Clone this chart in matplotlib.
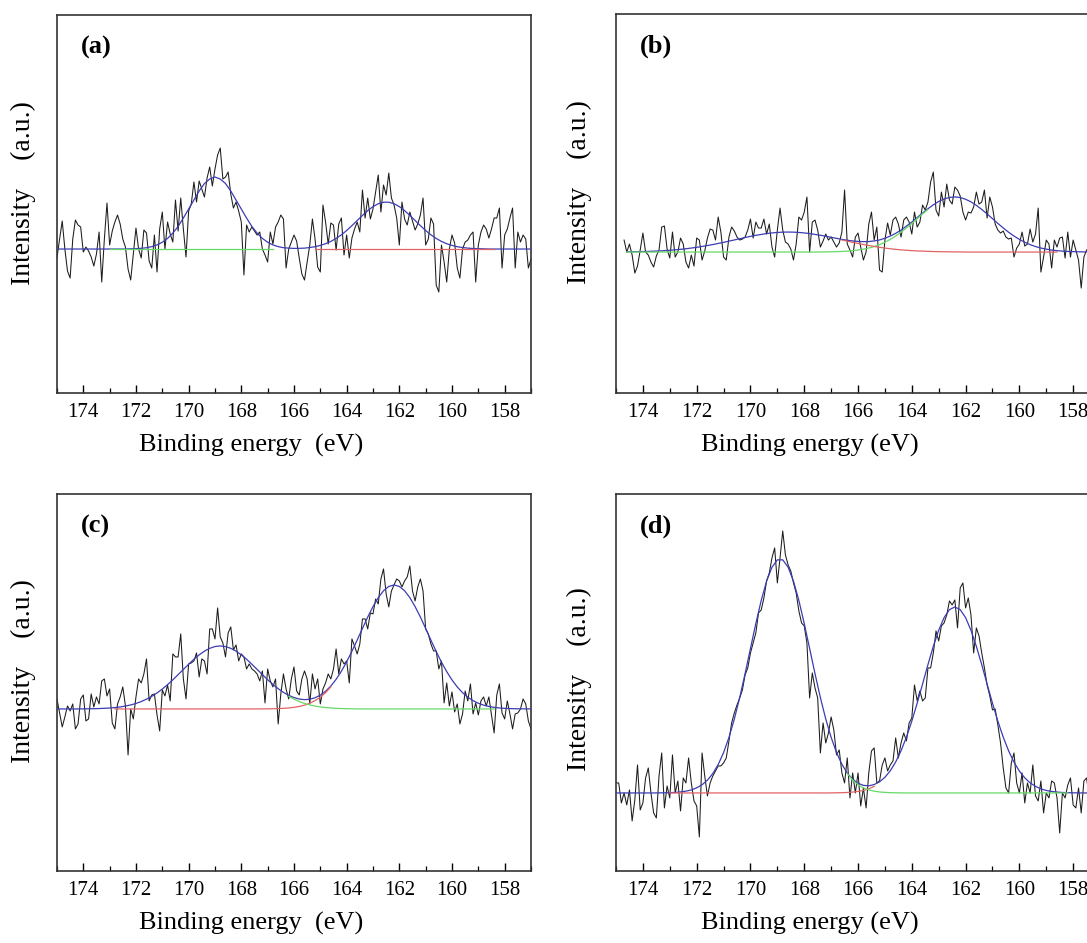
import numpy as np
import matplotlib
matplotlib.use("Agg")
import matplotlib.pyplot as plt
from matplotlib.ticker import MultipleLocator

plt.rcParams['font.family'] = ['Liberation Serif', 'DejaVu Serif']

# energy grids (eV): raw spectra every 0.1 eV, fitted curves every 0.2 eV
raw_energy = np.round(np.arange(175.0, 156.95, -0.1), 1)
fit_energy = np.round(np.arange(175.0, 156.9, -0.2), 1)

# raw S 2p spectra, intensity above baseline (a.u.)
raw_a = [-9, 10, 28, 0, -22, -29, 10, 29, 24, 22,
         -3, 2, -2, -8, -17, -5, 17, -33, 10, 46,
         4, 18, 27, 34, 25, 10, 2, -20, -31, -5,
         21, 0, -9, 19, 16, -12, -19, 14, -23, 20,
         37, 0, 27, 15, 7, 49, 18, 51, 20, -8,
         38, 45, 67, 47, 68, 60, 52, 71, 82, 63,
         80, 94, 101, 70, 72, 77, 55, 41, 47, 38,
         27, -26, 24, 17, 22, 18, 14, 17, 0, -6,
         -13, 17, 5, 22, 27, 34, 30, -19, 0, 7,
         14, 8, -9, -25, -31, -13, 4, 30, 10, -18,
         -23, 44, 27, 5, 26, 24, -1, 25, 31, -6,
         14, -9, 11, 20, 27, 17, 59, 31, 51, 30,
         40, 57, 74, 37, 64, 54, 76, 51, 44, 31,
         4, 47, 30, 24, 37, 28, 19, 25, 34, 51,
         4, 10, 31, 25, -36, -43, 4, -13, -33, 0,
         14, 6, -19, -29, 0, 7, 9, 14, 17, -33,
         4, 17, 24, 20, 11, 20, 31, 31, 41, -19,
         14, 20, 31, 41, -19, 17, 7, 14, 10, -19, -10]

raw_b = [None, None, None, 12, 0, 8, -3, -21, -14, 2,
         19, 0, -3, -10, -15, -4, 2, 25, 26, 3,
         -6, 20, -5, 0, 14, 8, -10, -16, -3, -14,
         14, 12, -8, 1, 14, 23, 22, 12, 35, 20,
         -5, -8, 15, 25, 21, 15, 12, 13, 15, 22,
         33, 14, 30, 24, 24, 33, 18, 28, 5, -5,
         22, 44, 22, 10, 8, 3, -8, 8, 35, 32,
         40, 55, 0, 30, 32, 22, 5, 11, 18, 12,
         15, 10, 5, 9, 20, 62, 8, 2, -5, 15,
         19, 5, -8, 0, 28, 40, 12, 25, -18, -20,
         12, 29, 17, 32, 35, 28, 15, 32, 35, 30,
         18, 40, 25, 30, 47, 42, 50, 70, 80, 42,
         36, 60, 45, 68, 52, 48, 65, 62, 56, 40,
         32, 40, 39, 45, 60, 48, 50, 62, 34, 55,
         45, 28, 22, 19, 21, 15, 13, 14, -5, 4,
         8, 20, 6, 8, 23, 10, 18, 44, -20, -5,
         12, 8, -16, 12, 5, 14, 15, -6, 20, -5,
         12, 2, -8, -36, -5, 2, 5, -3, 8, 0, -6]

raw_c = [10, -4, -18, -8, 3, -2, 5, -20, -15, 10,
         14, -12, -10, 15, 2, 12, 5, 28, 30, 13,
         20, -14, -20, 5, 12, 22, 3, -46, 0, -10,
         12, 30, 26, 35, 50, 8, 14, 15, -6, -22,
         19, 13, 24, 8, 55, 52, 52, 75, 30, 10,
         45, 46, 48, 56, 32, 50, 48, 35, 80, 80,
         70, 101, 72, 66, 52, 76, 82, 59, 64, 48,
         55, 52, 40, 45, 40, 38, 35, 28, 38, 6,
         40, 28, 22, 30, -15, 15, 35, 20, 10, 30,
         42, 18, 14, 30, 38, 30, 5, 35, 20, 30,
         5, 20, 26, 35, 30, 40, 60, 35, 50, 45,
         48, 26, 70, 63, 55, 65, 90, 90, 80, 96,
         95, 110, 105, 130, 140, 115, 102, 118, 124, 130,
         128, 122, 128, 132, 143, 118, 108, 122, 130, 118,
         80, 75, 65, 58, 58, 40, 48, 6, 26, 3,
         17, -3, 5, -15, -5, 18, 8, 25, -5, 6,
         -6, 8, 12, 3, 12, -6, -24, 14, 25, -4,
         -10, 8, -5, -20, -5, -4, 0, 10, 5, -12, -20]

raw_d = [10, 10, -10, 0, -12, 3, -28, -7, 28, -17,
         -10, 15, 25, 0, -20, -25, 17, 40, -15, 7,
         -5, 38, 0, 12, -18, 15, 10, 35, 10, -8,
         -13, -44, 40, 17, -3, 10, 17, 22, 27, 27,
         30, 35, 52, 70, 80, 88, 95, 103, 118, 125,
         140, 150, 160, 180, 183, 195, 212, 220, 235, 245,
         210, 235, 262, 238, 228, 222, 210, 200, 182, 170,
         167, 150, 95, 120, 105, 95, 40, 70, 50, 60,
         76, 63, 38, 43, 20, 10, 35, -5, 20, 0,
         20, -13, 5, -15, 20, 42, 45, 10, 12, 28,
         35, 22, 28, 32, 55, 35, 50, 60, 52, 70,
         75, 108, 92, 102, 92, 95, 125, 125, 140, 162,
         152, 167, 170, 178, 192, 188, 193, 165, 205, 210,
         185, 195, 178, 140, 165, 157, 140, 125, 108, 97,
         83, 84, 68, 50, 25, 5, 0, 30, 40, 10,
         0, 20, -10, 10, 0, 28, -3, -8, 12, -20,
         0, -5, 12, 10, -5, -40, 0, -5, 8, 15,
         -12, -15, 5, -20, 12, 15, -5, 10, -8, 5, 0]

# fitted components (S 2p ~169 eV and ~162 eV), sampled on fit_energy
a_peak1 = [0] * 14 + [0.2, 0.3, 0.7, 1.3, 2.4, 4.1, 6.8, 10.6, 15.9, 22.6, 31, 40, 49, 58, 65.5, 70,
                      72, 70, 65.5, 58, 49, 40, 31, 22.6, 15.9, 10.6, 6.8, 4.1, 2.4, 1.3, 0.7, 0.3, 0.2] + [0] * 44
a_peak2 = [0] * 44 + [0.2, 0.3, 0.5, 0.9, 1.5, 2.3, 3.6, 5.3, 7.6, 10.6, 14.2, 18.5, 23.4, 28.5, 33.6, 38.4,
                      42.4, 45.3, 46.8, 46.8, 45.3, 42.4, 38.4, 33.6, 28.5, 23.4, 18.5, 14.2, 10.6, 7.6,
                      5.3, 3.6, 2.3, 1.5, 0.9, 0.5, 0.3, 0.2] + [0] * 9

b_peak1 = [0.1, 0.15, 0.2, 0.3, 0.4, 0.5, 0.7, 0.9, 1.1, 1.4, 1.8, 2.2, 2.7, 3.3, 4.0, 4.7, 5.6, 6.5, 7.5,
           8.6, 9.7, 10.9, 12.1, 13.3, 14.5, 15.7, 16.7, 17.6, 18.5, 19.1, 19.6, 19.9, 20.0, 19.9, 19.6,
           19.1, 18.5, 17.6, 16.7, 15.7, 14.5, 13.3, 12.1, 10.9, 9.7, 8.6, 7.5, 6.5, 5.6, 4.7, 4.0, 3.3,
           2.7, 2.2, 1.8, 1.4, 1.1, 0.9, 0.7, 0.5, 0.4, 0.3, 0.2, 0.15, 0.1] + [0] * 26
b_peak2 = [0] * 38 + [0.1, 0.15, 0.25, 0.4, 0.6, 0.9, 1.4, 2.0, 2.9, 4.0, 5.5, 7.4, 9.8, 12.7, 16.0, 19.8,
                      24.1, 28.6, 33.4, 38.1, 42.6, 46.7, 50.2, 52.8, 54.4, 55, 54.4, 52.8, 50.2, 46.7,
                      42.6, 38.1, 33.4, 28.6, 24.1, 19.8, 16.0, 12.7, 9.8, 7.4, 5.5, 4.0, 2.9, 2.0, 1.4,
                      0.9, 0.6, 0.4, 0.25, 0.15, 0.1] + [0] * 2

c_peak1 = [0] * 5 + [0.1, 0.16, 0.26, 0.41, 0.63, 0.95, 1.4, 2.0, 2.9, 4.0, 5.5, 7.4, 9.8, 12.6, 16.0, 19.9,
                     24.3, 29.1, 34.3, 39.5, 44.7, 49.7, 54.1, 57.8, 60.6, 62.4, 63, 62.4, 60.6, 57.8, 54.1,
                     49.7, 44.7, 39.5, 34.3, 29.1, 24.3, 19.9, 16.0, 12.6, 9.8, 7.4, 5.5, 4.0, 2.9, 2.0,
                     1.4, 0.95, 0.63, 0.41, 0.26, 0.16, 0.1] + [0] * 33
c_peak2 = [0] * 38 + [0.04, 0.07, 0.12, 0.21, 0.37, 0.6, 1.0, 1.6, 2.5, 3.8, 5.7, 8.3, 11.8, 16.3, 22.0,
                      29.0, 37.3, 46.8, 57.5, 68.8, 80.5, 91.9, 102.3, 111.3, 118.2, 122.5, 124, 122.5,
                      118.2, 111.3, 102.3, 91.9, 80.5, 68.8, 57.5, 46.8, 37.3, 29.0, 22.0, 16.3, 11.8,
                      8.3, 5.7, 3.8, 2.5, 1.6, 1.0, 0.6, 0.37, 0.21, 0.12, 0.07, 0.04]

d_peak1 = [0] * 8 + [0.07, 0.15, 0.29, 0.55, 1.0, 1.8, 3.0, 5.1, 8.2, 12.8, 19.4, 28.4, 40.3, 55.5, 73.9,
                     95.4, 119.3, 144.5, 169.4, 192.5, 211.8, 225.7, 233.1, 233.1, 225.7, 211.8, 192.5,
                     169.4, 144.5, 119.3, 95.4, 73.9, 55.5, 40.3, 28.4, 19.4, 12.8, 8.2, 5.1, 3.0, 1.8,
                     1.0, 0.55, 0.29, 0.15, 0.07] + [0] * 37
d_peak2 = [0] * 40 + [0.07, 0.14, 0.26, 0.49, 0.87, 1.5, 2.5, 4.1, 6.6, 10.1, 15.1, 21.9, 30.8, 42.1, 55.8,
                      71.8, 89.8, 108.9, 128.3, 146.6, 162.7, 175.3, 183.3, 186, 183.3, 175.3, 162.7,
                      146.6, 128.3, 108.9, 89.8, 71.8, 55.8, 42.1, 30.8, 21.9, 15.1, 10.1, 6.6, 4.1, 2.5,
                      1.5, 0.87, 0.49, 0.26, 0.14, 0.07] + [0] * 4

# energy span (high, low) over which each component line is shown
a_spans = [(173.0, 166.8), (165.3, 158.3)]   # peak2 component, peak1 component
b_spans = [(174.6, 163.4), (166.6, 158.6)]
c_spans = [(172.8, 164.6), (166.2, 158.3)]
d_spans = [(173.0, 165.4), (166.4, 158.2)]

tags = ['(a)', '(b)', '(c)', '(d)']

BLACK = '#1c1c1c'
BLUE = '#3c3cb4'
GREEN = '#66d966'
RED = '#e06464'

fig = plt.figure(figsize=(10.87, 9.43), dpi=100)

# axes boxes in figure fraction (right column runs past the figure edge)
rect_a = [0.0524, 0.5832, 0.4361, 0.4009]
rect_b = [0.5667, 0.5832, 0.4453, 0.4019]
rect_c = [0.0524, 0.0764, 0.4361, 0.3998]
rect_d = [0.5667, 0.0764, 0.4453, 0.3998]

panels = [
    dict(rect=rect_a, raw=raw_a, p1=a_peak1, p2=a_peak2, spans=a_spans, cols=(GREEN, RED),
         ylim=(-144, 234), env_start=175.0, xl='Binding energy  (eV)', xl_pos=(0.41, -0.138),
         yl_pos=(-0.070, 0.53), tag_pos=(0.05, 0.915)),
    dict(rect=rect_b, raw=raw_b, p1=b_peak1, p2=b_peak2, spans=b_spans, cols=(GREEN, RED),
         ylim=(-141, 238), env_start=174.6, xl='Binding energy (eV)', xl_pos=(0.40, -0.138),
         yl_pos=(-0.076, 0.53), tag_pos=(0.049, 0.915)),
    dict(rect=rect_c, raw=raw_c, p1=c_peak1, p2=c_peak2, spans=c_spans, cols=(RED, GREEN),
         ylim=(-162, 215), env_start=175.0, xl='Binding energy  (eV)', xl_pos=(0.41, -0.138),
         yl_pos=(-0.070, 0.53), tag_pos=(0.05, 0.915)),
    dict(rect=rect_d, raw=raw_d, p1=d_peak1, p2=d_peak2, spans=d_spans, cols=(RED, GREEN),
         ylim=(-78, 299), env_start=175.0, xl='Binding energy (eV)', xl_pos=(0.40, -0.138),
         yl_pos=(-0.076, 0.51), tag_pos=(0.049, 0.915)),
]

for tag, p in zip(tags, panels):
    ax = fig.add_axes(p['rect'])
    y_raw = np.array([np.nan if v is None else v for v in p['raw']], dtype=float)
    p1 = np.array(p['p1'], dtype=float)
    p2 = np.array(p['p2'], dtype=float)
    envelope = p1 + p2

    ax.plot(raw_energy, y_raw, color=BLACK, lw=0.75, zorder=2)

    m = fit_energy <= p['env_start'] + 1e-6
    ax.plot(fit_energy[m], envelope[m], color=BLUE, lw=0.9, zorder=3)

    # component lines drawn on top, each only over its span
    for comp, (hi, lo), col in zip((p2, p1), p['spans'], p['cols']):
        m = (fit_energy <= hi + 1e-6) & (fit_energy >= lo - 1e-6)
        ax.plot(fit_energy[m], comp[m], color=col, lw=0.9, zorder=4)

    ax.set_xlim(175, 157)
    ax.set_ylim(*p['ylim'])
    ax.xaxis.set_major_locator(MultipleLocator(2))
    ax.xaxis.set_minor_locator(MultipleLocator(1))
    ax.tick_params(axis='x', which='major', direction='in', length=6, width=1.0,
                   labelsize=15, pad=7, top=False)
    ax.tick_params(axis='x', which='minor', direction='in', length=3.5, width=0.9, top=False)
    ax.set_yticks([])
    for s in ax.spines.values():
        s.set_linewidth(1.2)
        s.set_color('#333333')

    ax.set_xlabel(p['xl'], fontsize=19)
    ax.xaxis.set_label_coords(*p['xl_pos'])
    ax.xaxis.label.set_va('center')
    ax.set_ylabel('Intensity    (a.u.)', fontsize=20)
    ax.yaxis.set_label_coords(*p['yl_pos'])
    ax.yaxis.label.set_va('center')

    ax.text(p['tag_pos'][0], p['tag_pos'][1], tag, transform=ax.transAxes,
            fontsize=19, fontweight='bold', ha='left', va='center')

fig.savefig('out.png', dpi=100)
